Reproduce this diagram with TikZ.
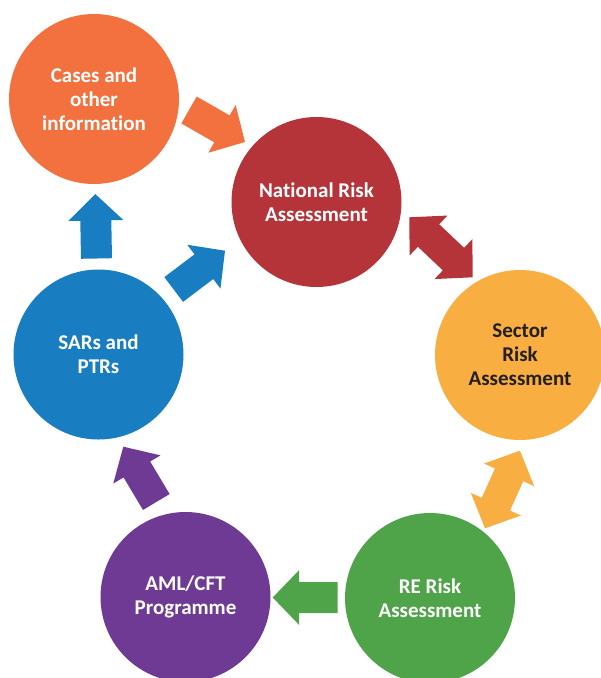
\documentclass[tikz,border=0pt]{standalone}
\usepackage{fontspec}
\setmainfont{Carlito}[Ligatures={NoCommon}]
\usetikzlibrary{calc}

\definecolor{cOrange}{RGB}{242,113,62}
\definecolor{cRed}{RGB}{180,52,58}
\definecolor{cYellow}{RGB}{248,174,64}
\definecolor{cBlue}{RGB}{24,125,193}
\definecolor{cPurple}{RGB}{111,58,148}
\definecolor{cGreen}{RGB}{79,163,72}
\definecolor{cInk}{RGB}{35,31,32}

% block arrow dimensions: half shaft width, half head width, head length
\newcommand{\shafthalf}{15.5pt}
\newcommand{\headhalf}{27.5pt}
\newcommand{\headlen}{26.5pt}

% single block arrow from #2 (tail) to #3 (tip), style #1
\newcommand{\blockarrow}[3]{%
  \coordinate (hb) at ($(#3)!\headlen!(#2)$);
  \fill[#1] ($(#2)!\shafthalf!90:(#3)$) -- ($(hb)!\shafthalf!90:(#3)$)
    -- ($(hb)!\headhalf!90:(#3)$) -- (#3)
    -- ($(hb)!\headhalf!-90:(#3)$) -- ($(hb)!\shafthalf!-90:(#3)$)
    -- ($(#2)!\shafthalf!-90:(#3)$) -- cycle;
}
% double block arrow between tips #2 and #3, style #1
\newcommand{\twowayarrow}[3]{%
  \coordinate (hba) at ($(#2)!\headlen!(#3)$);
  \coordinate (hbb) at ($(#3)!\headlen!(#2)$);
  \fill[#1] (#2) -- ($(hba)!\headhalf!90:(#3)$) -- ($(hba)!\shafthalf!90:(#3)$)
    -- ($(hbb)!\shafthalf!-90:(#2)$) -- ($(hbb)!\headhalf!-90:(#2)$) -- (#3)
    -- ($(hbb)!\headhalf!90:(#2)$) -- ($(hbb)!\shafthalf!90:(#2)$)
    -- ($(hba)!\shafthalf!-90:(#3)$) -- ($(hba)!\headhalf!-90:(#3)$) -- cycle;
}

\begin{document}
\begin{tikzpicture}[x=1pt,y=-1pt,
  stage/.style={circle, minimum size=170pt, inner sep=0pt, align=center,
    text=white, font=\fontsize{21}{24}\selectfont\bfseries}]
\useasboundingbox (0,0) rectangle (601,678);

% stages of the cycle
\node[stage, fill=cOrange] (cases) at (94,99) {Cases and\\other\\information};
\node[stage, fill=cRed] (nra) at (316.5,202) {National Risk\\Assessment};
\node[stage, fill=cYellow, text=cInk] (sra) at (520,355) {Sector\\Risk\\Assessment};
\node[stage, fill=cGreen] (rera) at (430,598) {RE Risk\\Assessment};
\node[stage, fill=cPurple] (aml) at (185.5,597) {AML/CFT\\Programme};
\node[stage, fill=cBlue] (sars) at (98.5,354.5) {SARs and\\PTRs};

% arrow end points
\coordinate (a1t) at (189,110);     \coordinate (a1h) at (245,142);
\coordinate (a2a) at (409.3,217.3); \coordinate (a2b) at (472.7,277.3);
\coordinate (a3a) at (520,450.7);   \coordinate (a3b) at (485,528.3);
\coordinate (a4t) at (337.7,597.5); \coordinate (a4h) at (272.7,597.5);
\coordinate (a5t) at (156.3,502);   \coordinate (a5h) at (123.3,446.7);
\coordinate (a6t) at (96.5,258.5);  \coordinate (a6h) at (95.3,194);
\coordinate (a7t) at (173.7,289.5); \coordinate (a7h) at (225,250.7);

% connecting arrows
\blockarrow{cOrange}{a1t}{a1h}
\twowayarrow{cRed}{a2a}{a2b}
\twowayarrow{cYellow}{a3a}{a3b}
\blockarrow{cGreen}{a4t}{a4h}
\blockarrow{cPurple}{a5t}{a5h}
\blockarrow{cBlue}{a6t}{a6h}
\blockarrow{cBlue}{a7t}{a7h}
\end{tikzpicture}
\end{document}
